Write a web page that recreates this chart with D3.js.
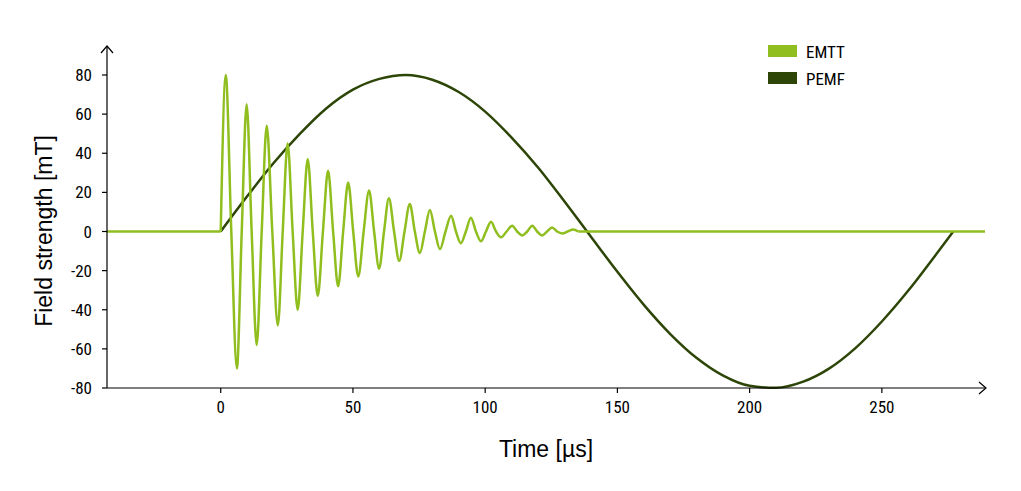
<!DOCTYPE html>
<html><head><meta charset="utf-8">
<script src="https://cdn.jsdelivr.net/npm/d3@7"></script>
<style>body{margin:0;background:#fff}</style></head>
<body><svg id="c" width="1021" height="491"></svg>
<script>
// EMTT: peaks (time µs, mT)
const emttPeakT = [1.9,6.1,9.8,13.6,17.4,21.6,25.3,29.1,32.9,36.7,40.6,44.4,48.2,52,56.1,59.9,63.6,67.5,71.5,75.3,79.1,82.9,87.1,90.8,94.6,98.4,102.2,106,110.2,114,117.8,121.5,125.3,129.1,133.3];
const emttPeakV = [80,-70,65,-58,54,-48,45,-40,37,-33,31,-28,25,-23,21,-19,17,-15,14,-11,11,-9,8,-6,7,-5,5,-3,3,-2,3,-2,2,-1,1];
// PEMF: samples every 10 µs
const pemfT = [0,10,20,30,40,50,60,70,80,90,100,110,120,130,140,150,160,170,180,190,200,210,220,230,240,250,260,270,277];
const pemfV = [0,18,35,50,63,72.5,78,80,77.6,71.3,61.3,48,32.7,15.3,-2.7,-20.6,-37.5,-52.4,-64.7,-73.7,-78.9,-79.9,-76.9,-70.1,-59.6,-46,-30.2,-12.6,0];
const yTicks = [-80,-60,-40,-20,0,20,40,60,80];
const xTicks = [0,50,100,150,200,250];
const legendLabels = ["EMTT","PEMF"];
const colors = ["#8fbe1e","#2d4608"];

const svg = d3.select("#c");
const x = d3.scaleLinear().domain([-43,289]).range([107,985]);
const y = d3.scaleLinear().domain([-80,80]).range([388,75]);
const font = "'Liberation Sans Narrow','Roboto Condensed',Arial,sans-serif";

const emtt = [[0,0]];
let prev = 0;
emttPeakT.forEach((t,i)=>{
  if(i>0) emtt.push([(prev+t)/2,0]);
  emtt.push([t,emttPeakV[i]]);
  prev = t;
});
emtt.push([prev+1.9,0]);

const mono = d3.line().x(d=>x(d[0])).y(d=>y(d[1])).curve(d3.curveMonotoneX);
const lin = d3.line().x(d=>x(d[0])).y(d=>y(d[1]));
// PEMF
svg.append("path").datum(pemfT.map((t,i)=>[t,pemfV[i]]))
  .attr("d",mono).attr("fill","none").attr("stroke",colors[1]).attr("stroke-width",2.5);
// EMTT baseline and oscillation
svg.append("path").datum([[-43,0],[0,0]]).attr("d",lin).attr("fill","none").attr("stroke",colors[0]).attr("stroke-width",2.5);
svg.append("path").datum([[emtt[emtt.length-1][0],0],[289,0]]).attr("d",lin).attr("fill","none").attr("stroke",colors[0]).attr("stroke-width",2.5);
svg.append("path").datum(emtt)
  .attr("d",mono).attr("fill","none").attr("stroke",colors[0]).attr("stroke-width",2.5);

// axes
const ax = svg.append("g").attr("stroke","#000").attr("stroke-width",1.2).attr("fill","none");
ax.append("line").attr("x1",107).attr("x2",985).attr("y1",388).attr("y2",388);
ax.append("line").attr("x1",107).attr("x2",107).attr("y1",388).attr("y2",46);
ax.append("path").attr("d","M979,382 L986,388 L979,394");
ax.append("path").attr("d","M101,53 L107,46 L113,53");
xTicks.forEach(t=>{
  ax.append("line").attr("x1",x(t)).attr("x2",x(t)).attr("y1",388).attr("y2",393);
  svg.append("text").attr("x",x(t)).attr("y",413).attr("text-anchor","middle").attr("font-family",font).attr("font-size",17).text(t);
});
yTicks.forEach(t=>{
  ax.append("line").attr("x1",102).attr("x2",107).attr("y1",y(t)).attr("y2",y(t));
  svg.append("text").attr("x",92).attr("y",y(t)+6).attr("text-anchor","end").attr("font-family",font).attr("font-size",17).text(t);
});
svg.append("text").attr("x",546).attr("y",457).attr("text-anchor","middle").attr("font-family","Arial,sans-serif").attr("font-size",23).text("Time [µs]");
svg.append("text").attr("transform","translate(52,231) rotate(-90)").attr("text-anchor","middle").attr("font-family","Arial,sans-serif").attr("font-size",23).text("Field strength [mT]");

legendLabels.forEach((l,i)=>{
  svg.append("rect").attr("x",768).attr("y",45+i*27).attr("width",29).attr("height",12).attr("fill",colors[i]);
  svg.append("text").attr("x",806).attr("y",58+i*27).attr("font-family",font).attr("font-size",17).text(l);
});
</script></body></html>
